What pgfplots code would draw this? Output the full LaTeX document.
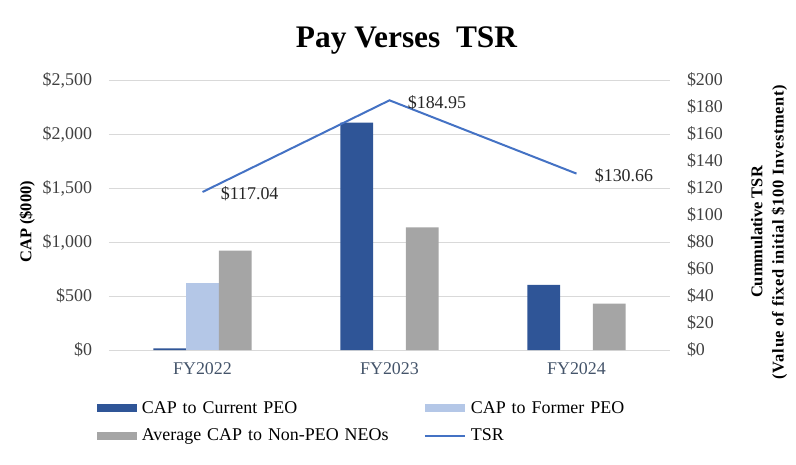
\documentclass[border=0pt]{standalone}
\usepackage{fontspec}
\setmainfont{Liberation Serif}
\usepackage{pgfplots}
\pgfplotsset{compat=1.18}
\usetikzlibrary{calc}
\definecolor{curpeo}{HTML}{2F5597}
\definecolor{formerpeo}{HTML}{B4C7E7}
\definecolor{neo}{HTML}{A5A5A5}
\definecolor{tsr}{HTML}{4472C4}
\definecolor{gridc}{HTML}{D9D9D9}
\definecolor{ticktxt}{HTML}{404040}
\definecolor{xtxt}{HTML}{44546A}
\newcommand{\fs}{\fontsize{18}{21}\selectfont}
\newcommand{\lf}{\fontsize{16.5}{21.5}\selectfont\bfseries}
\pgfplotsset{
  barlegend/.style={legend image code/.code={\fill[##1] (0bp,-4bp) rectangle (40bp,4bp);}},
  linelegend/.style={legend image code/.code={\draw[##1] (0bp,0bp) -- (40bp,0bp);}},
}
\begin{document}
\begin{tikzpicture}
\begin{axis}[
  name=bars,
  at={(0,0)}, anchor=south west,
  scale only axis, width=561bp, height=270bp,
  xmin=-0.5, xmax=2.5, ymin=0, ymax=2500,
  xtick={0,1,2}, xticklabels={FY2022,FY2023,FY2024},
  ytick={0,500,...,2500},
  ybar=0pt, bar width=0.175,
  axis line style={draw=none},
  major tick length=0pt,
  ymajorgrids, grid style={gridc, line width=0.75bp},
  yticklabel={\$\pgfmathprintnumber{\tick}},
  /pgf/number format/1000 sep={,},
  /pgf/number format/assume math mode=true,
  tick label style={font=\fs, text=ticktxt},
  yticklabel style={xshift=-13.5bp},
  xticklabel style={text=xtxt, yshift=-9bp},
  ylabel={CAP (\$000)},
  ylabel style={at={(axis description cs:-0.146,0.475)}, anchor=center, font=\lf},
  legend columns=2,
  legend style={at={(axis description cs:-0.022,-0.183)}, anchor=north west,
    draw=none, fill=none, font=\fs, inner sep=0pt, row sep=10bp,
    nodes={text width=280bp, align=left, inner sep=2bp},
    /tikz/every odd column/.append style={column sep=3bp}},
]
\addplot[fill=curpeo, draw=none, barlegend] coordinates {(0,15) (1,2105) (2,602)};
\addlegendentry{CAP to Current PEO}
\addplot[fill=formerpeo, draw=none, barlegend] coordinates {(0,617)};
\addlegendentry{CAP to Former PEO}
\addplot[fill=neo, draw=none, barlegend] coordinates {(0,919) (1,1136) (2,429)};
\addlegendentry{Average CAP to Non-PEO NEOs}
\addlegendimage{tsr, line width=2bp, linelegend}
\addlegendentry{TSR}
\end{axis}
\begin{axis}[
  at={(0,0)}, anchor=south west,
  scale only axis, width=561bp, height=270bp,
  xmin=-0.5, xmax=2.5, ymin=0, ymax=200,
  axis x line=none, axis y line*=right,
  axis line style={draw=none},
  major tick length=0pt,
  ytick={0,20,...,200},
  yticklabel={\$\pgfmathprintnumber{\tick}},
  /pgf/number format/assume math mode=true,
  tick label style={font=\fs, text=ticktxt},
  yticklabel style={xshift=13.5bp, anchor=west},
  ylabel={Cummulative TSR\\{\addfontfeatures{LetterSpace=4}(Value of fixed initial \$100 Investment)}},
  ylabel style={at={(axis description cs:1.1765,0.437)}, anchor=center, align=center, font=\lf, rotate=0},
  point meta=y,
  nodes near coords={\$\pgfmathprintnumber[fixed,fixed zerofill,precision=2]{\pgfplotspointmeta}},
  every node near coord/.append style={anchor=west, xshift=14bp, yshift=-2bp, font=\fs, text=black!85},
]
\addplot[tsr, line width=2bp, mark=none] coordinates {(0,117.04) (1,184.95) (2,130.66)};
\end{axis}
\node[font=\fontsize{31.5}{36}\selectfont\bfseries, anchor=base] at ($(bars.south west)+(297.5bp,302bp)$) {Pay Verses\ \ TSR};
\pgfresetboundingbox
\path[use as bounding box] ($(bars.south west)+(-109bp,-115bp)$) rectangle ($(bars.south west)+(687bp,350bp)$);
\end{tikzpicture}
\end{document}
